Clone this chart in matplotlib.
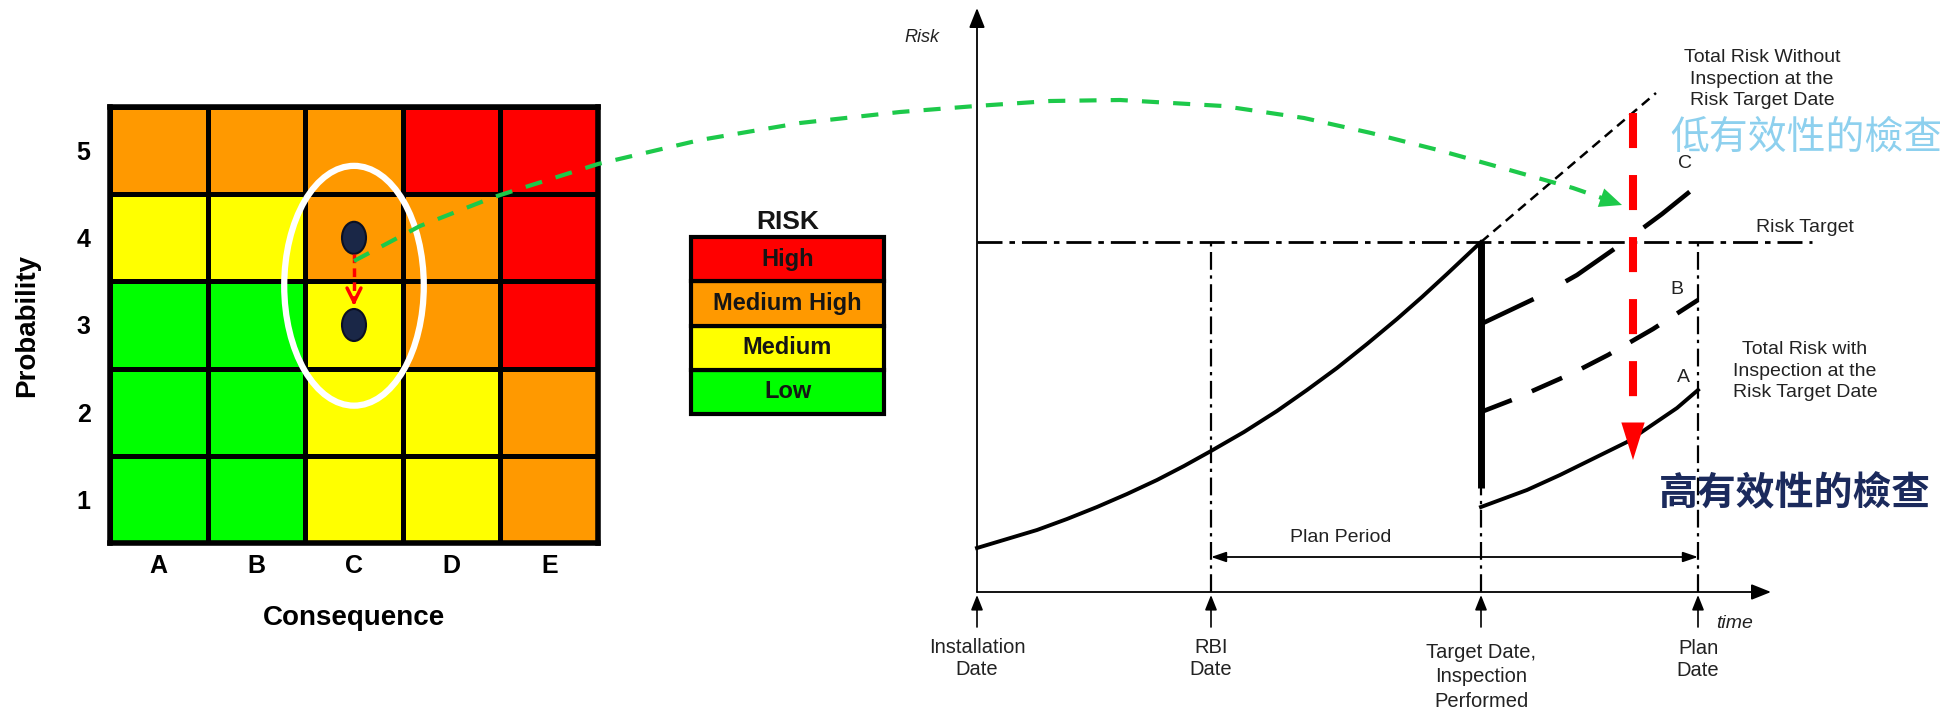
import numpy as np
import matplotlib
matplotlib.use('Agg')
import matplotlib.pyplot as plt
from matplotlib.colors import ListedColormap
from matplotlib.patches import Ellipse

plt.rcParams['font.family'] = ['Liberation Sans', 'DejaVu Sans']

# ---- risk matrix ----
consequence = ['A', 'B', 'C', 'D', 'E']
probability = ['1', '2', '3', '4', '5']
risk_levels = ['Low', 'Medium', 'Medium High', 'High']
level_colors = ['#00ff00', '#ffff00', '#ff9900', '#ff0000']
# rows = probability 1..5, cols = consequence A..E, value = index in risk_levels
risk_grid = [
    [0, 0, 1, 1, 2],
    [0, 0, 1, 1, 2],
    [0, 0, 1, 2, 3],
    [1, 1, 2, 2, 3],
    [2, 2, 2, 3, 3],
]
item_before = ('C', 4)
item_after = ('C', 3)

# ---- risk vs time ----
time_marks = [0.0, 2.34, 5.04, 7.21]
time_labels = ['Installation\nDate', 'RBI\nDate',
               'Target Date,\nInspection\nPerformed', 'Plan\nDate']
risk_target = 3.5

base_t = [0.0, 0.3, 0.6, 0.9, 1.2, 1.5, 1.8, 2.07, 2.34, 2.67, 3.0, 3.3,
          3.6, 3.9, 4.2, 4.45, 4.7, 4.87, 5.04]
base_r = [0.44, 0.53, 0.62, 0.73, 0.85, 0.98, 1.12, 1.26, 1.41, 1.60, 1.81,
          2.02, 2.24, 2.48, 2.73, 2.95, 3.18, 3.34, 3.50]

no_insp_t = [5.04, 6.79]
no_insp_r = [3.50, 4.99]

curve_c_t = [5.04, 5.61, 6.0, 6.43, 6.85, 7.21]
curve_c_r = [2.68, 2.95, 3.17, 3.47, 3.78, 4.07]
curve_b_t = [5.04, 5.35, 5.96, 6.31, 6.76, 7.21]
curve_b_r = [1.80, 1.92, 2.19, 2.37, 2.63, 2.92]
curve_a_t = [5.04, 5.5, 5.83, 6.5, 7.0, 7.21]
curve_a_r = [0.85, 1.02, 1.17, 1.50, 1.84, 2.02]

# inspection effectiveness arrow (low -> high)
eff_t = 6.56
eff_top, eff_head, eff_tip = 4.79, 1.70, 1.32

# link from the matrix item to the risk plot
link_t = [-6.23, -5.57, -4.83, -3.79, -2.77, -1.77, -0.77, -0.01, 0.73, 1.43,
          2.46, 3.27, 3.94, 4.61, 5.29, 5.96, 6.45]
link_r = [3.31, 3.66, 3.95, 4.28, 4.52, 4.69, 4.80, 4.86, 4.91, 4.92,
          4.86, 4.74, 4.59, 4.42, 4.23, 4.04, 3.87]

W, H = 1950, 710
fig = plt.figure(figsize=(W / 100, H / 100), dpi=100)


def px_rect(x0, y0, x1, y1):
    return [x0 / W, 1 - y1 / H, (x1 - x0) / W, (y1 - y0) / H]


# risk matrix
ax_m = fig.add_axes(px_rect(110, 107, 598, 543))
ax_m.pcolormesh(np.array(risk_grid), cmap=ListedColormap(level_colors),
                vmin=-0.5, vmax=3.5, edgecolors='black', linewidth=3.5)
ax_m.set_xlim(0, 5)
ax_m.set_ylim(0, 5)
ax_m.set_xticks(np.arange(5) + 0.5, consequence)
ax_m.set_yticks(np.arange(5) + 0.5, probability)
ax_m.tick_params(axis='x', length=0, labelsize=18, pad=8)
ax_m.tick_params(axis='y', length=0, labelsize=18, pad=14)
for lbl in ax_m.get_xticklabels() + ax_m.get_yticklabels():
    lbl.set_fontweight('bold')
for s in ax_m.spines.values():
    s.set_linewidth(4)
ax_m.text(-0.170, 0.498, 'Probability', transform=ax_m.transAxes, rotation=90,
          ha='center', va='center', fontsize=20, fontweight='bold')
ax_m.text(0.5, -0.172, 'Consequence', transform=ax_m.transAxes,
          ha='center', va='center', fontsize=20, fontweight='bold')

cx0 = consequence.index(item_before[0]) + 0.5
cy0 = item_before[1] - 0.5
cx1 = consequence.index(item_after[0]) + 0.5
cy1 = item_after[1] - 0.5
ax_m.add_patch(Ellipse(((cx0 + cx1) / 2, (cy0 + cy1) / 2 - 0.05), 1.43, 2.75,
                       fill=False, ec='white', lw=4.5, zorder=4))
for cx, cy in [(cx0, cy0), (cx1, cy1)]:
    ax_m.add_patch(Ellipse((cx, cy), 0.246, 0.367, fc='#1a2747', ec='#0b1022',
                           lw=1.5, zorder=5))
ax_m.plot([cx0, cx1], [cy0 - 0.19, cy1 + 0.30], color='red', lw=2.5,
          dashes=(2.5, 1.5), zorder=6)
ax_m.annotate('', xy=(cx1, cy1 + 0.22), xytext=(cx1, cy1 + 0.30),
              arrowprops=dict(arrowstyle='->,head_length=0.5,head_width=0.25',
                              mutation_scale=20, color='red', lw=2.5,
                              shrinkA=0, shrinkB=0),
              zorder=6)

# legend
ax_l = fig.add_axes(px_rect(691, 237, 884, 414))
ypos = np.arange(len(risk_levels))
ax_l.barh(ypos, 1, height=1, color=level_colors, edgecolor='black',
          linewidth=3, clip_on=False)
for y, name in zip(ypos, risk_levels):
    ax_l.text(0.5, y, name, ha='center', va='center', fontsize=17,
              fontweight='bold', color='#151515')
ax_l.set_xlim(0, 1)
ax_l.set_ylim(-0.5, 3.5)
ax_l.set_title('RISK', fontsize=19, fontweight='bold', pad=6, color='#151515')
ax_l.axis('off')

# risk vs time plot, 1 unit = 100 px
ax = fig.add_axes([0, 0, 1, 1])
ax.set_xlim(-9.77, 9.73)
ax.set_ylim(-1.18, 5.92)
ax.axis('off')

axis_arrow = dict(arrowstyle='-|>,head_length=0.6,head_width=0.24',
                  mutation_scale=20, color='black', lw=1.3, shrinkA=0, shrinkB=0)
ax.annotate('', xy=(0, 5.84), xytext=(0, 0), arrowprops=axis_arrow)
ax.annotate('', xy=(7.94, 0), xytext=(0, 0), arrowprops=axis_arrow)

ax.plot([0, 8.35], [risk_target, risk_target], color='black', lw=2,
        dashes=(9, 2.5, 2, 2.5))
for t in time_marks[1:]:
    ax.plot([t, t], [0, risk_target], color='black', lw=1.6,
            dashes=(8, 2.5, 1.5, 2.5))
ax.plot([time_marks[2]] * 2, [1.04, risk_target], color='black', lw=5,
        solid_capstyle='butt')

ax.plot(base_t, base_r, color='black', lw=2.8)
ax.plot(no_insp_t, no_insp_r, color='black', lw=1.8, dashes=(4, 2.5))
ax.plot(curve_c_t, curve_c_r, color='black', lw=3.3, dashes=(12.7, 8))
ax.plot(curve_b_t, curve_b_r, color='black', lw=3.3, dashes=(7.2, 4.8))
ax.plot(curve_a_t, curve_a_r, color='black', lw=2.8)

# time tick arrows and labels
tick_arrow = dict(arrowstyle='-|>,head_length=0.5,head_width=0.2',
                  mutation_scale=18, color='black', lw=1.2, shrinkA=0, shrinkB=0)
label_y = [-0.665, -0.665, -0.85, -0.675]
label_spacing = [1.2, 1.2, 1.35, 1.25]
for t, lab, ly, ls in zip(time_marks, time_labels, label_y, label_spacing):
    ax.annotate('', xy=(t, -0.03), xytext=(t, -0.35), arrowprops=tick_arrow)
    ax.text(t, ly, lab, ha='center', va='center', fontsize=14.5,
            color='#222222', linespacing=ls)

ax.annotate('', xy=(time_marks[3], 0.35), xytext=(time_marks[1], 0.35),
            arrowprops=dict(arrowstyle='<|-|>,head_length=0.5,head_width=0.17',
                            mutation_scale=18, color='black', lw=1.3,
                            shrinkA=0, shrinkB=0))
ax.text(3.64, 0.55, 'Plan Period', ha='center', va='center', fontsize=14,
        color='#222222')

ax.text(-0.55, 5.55, 'Risk', ha='center', va='center', fontsize=13,
        style='italic', color='#222222')
ax.text(7.58, -0.32, 'time', ha='center', va='center', fontsize=14,
        style='italic', color='#222222')
ax.text(8.28, 3.65, 'Risk Target', ha='center', va='center', fontsize=14,
        color='#222222')
ax.text(7.85, 5.13, 'Total Risk Without\nInspection at the\nRisk Target Date',
        ha='center', va='center', fontsize=14, color='#222222', linespacing=1.35)
ax.text(8.28, 2.21, 'Total Risk with\nInspection at the\nRisk Target Date',
        ha='center', va='center', fontsize=14, color='#222222', linespacing=1.35)
ax.text(7.08, 4.29, 'C', ha='center', va='center', fontsize=14, color='#222222')
ax.text(7.00, 3.03, 'B', ha='center', va='center', fontsize=14, color='#222222')
ax.text(7.06, 2.15, 'A', ha='center', va='center', fontsize=14, color='#222222')

# effectiveness arrow
ax.plot([eff_t, eff_t], [eff_top, eff_head], color='#ff0000', lw=5.8,
        dashes=(4.35, 3.35))
ax.annotate('', xy=(eff_t, eff_tip), xytext=(eff_t, eff_head),
            arrowprops=dict(arrowstyle='-|>,head_length=0.9,head_width=0.28',
                            mutation_scale=30, color='#ff0000', lw=0,
                            shrinkA=0, shrinkB=0))
ax.text(8.29, 4.54, '低有效性的檢查', ha='center', va='center', fontsize=28,
        color='#8dd0ee', family=['Noto Sans CJK TC', 'DejaVu Sans'])
ax.text(8.18, 0.99, '高有效性的檢查', ha='center', va='center', fontsize=28,
        fontweight='bold', color='#1b2a5c', family=['Noto Sans CJK TC', 'DejaVu Sans'])

# link between the two panels
ax.plot(link_t, link_r, color='#1dc94a', lw=3, dashes=(4.1, 3.4))
ax.annotate('', xy=(link_t[-1], link_r[-1]), xytext=(link_t[-2], link_r[-2]),
            arrowprops=dict(arrowstyle='-|>,head_length=0.8,head_width=0.35',
                            mutation_scale=20, color='#1dc94a', lw=0,
                            shrinkA=0, shrinkB=0))

fig.savefig('out.png', dpi=100)
